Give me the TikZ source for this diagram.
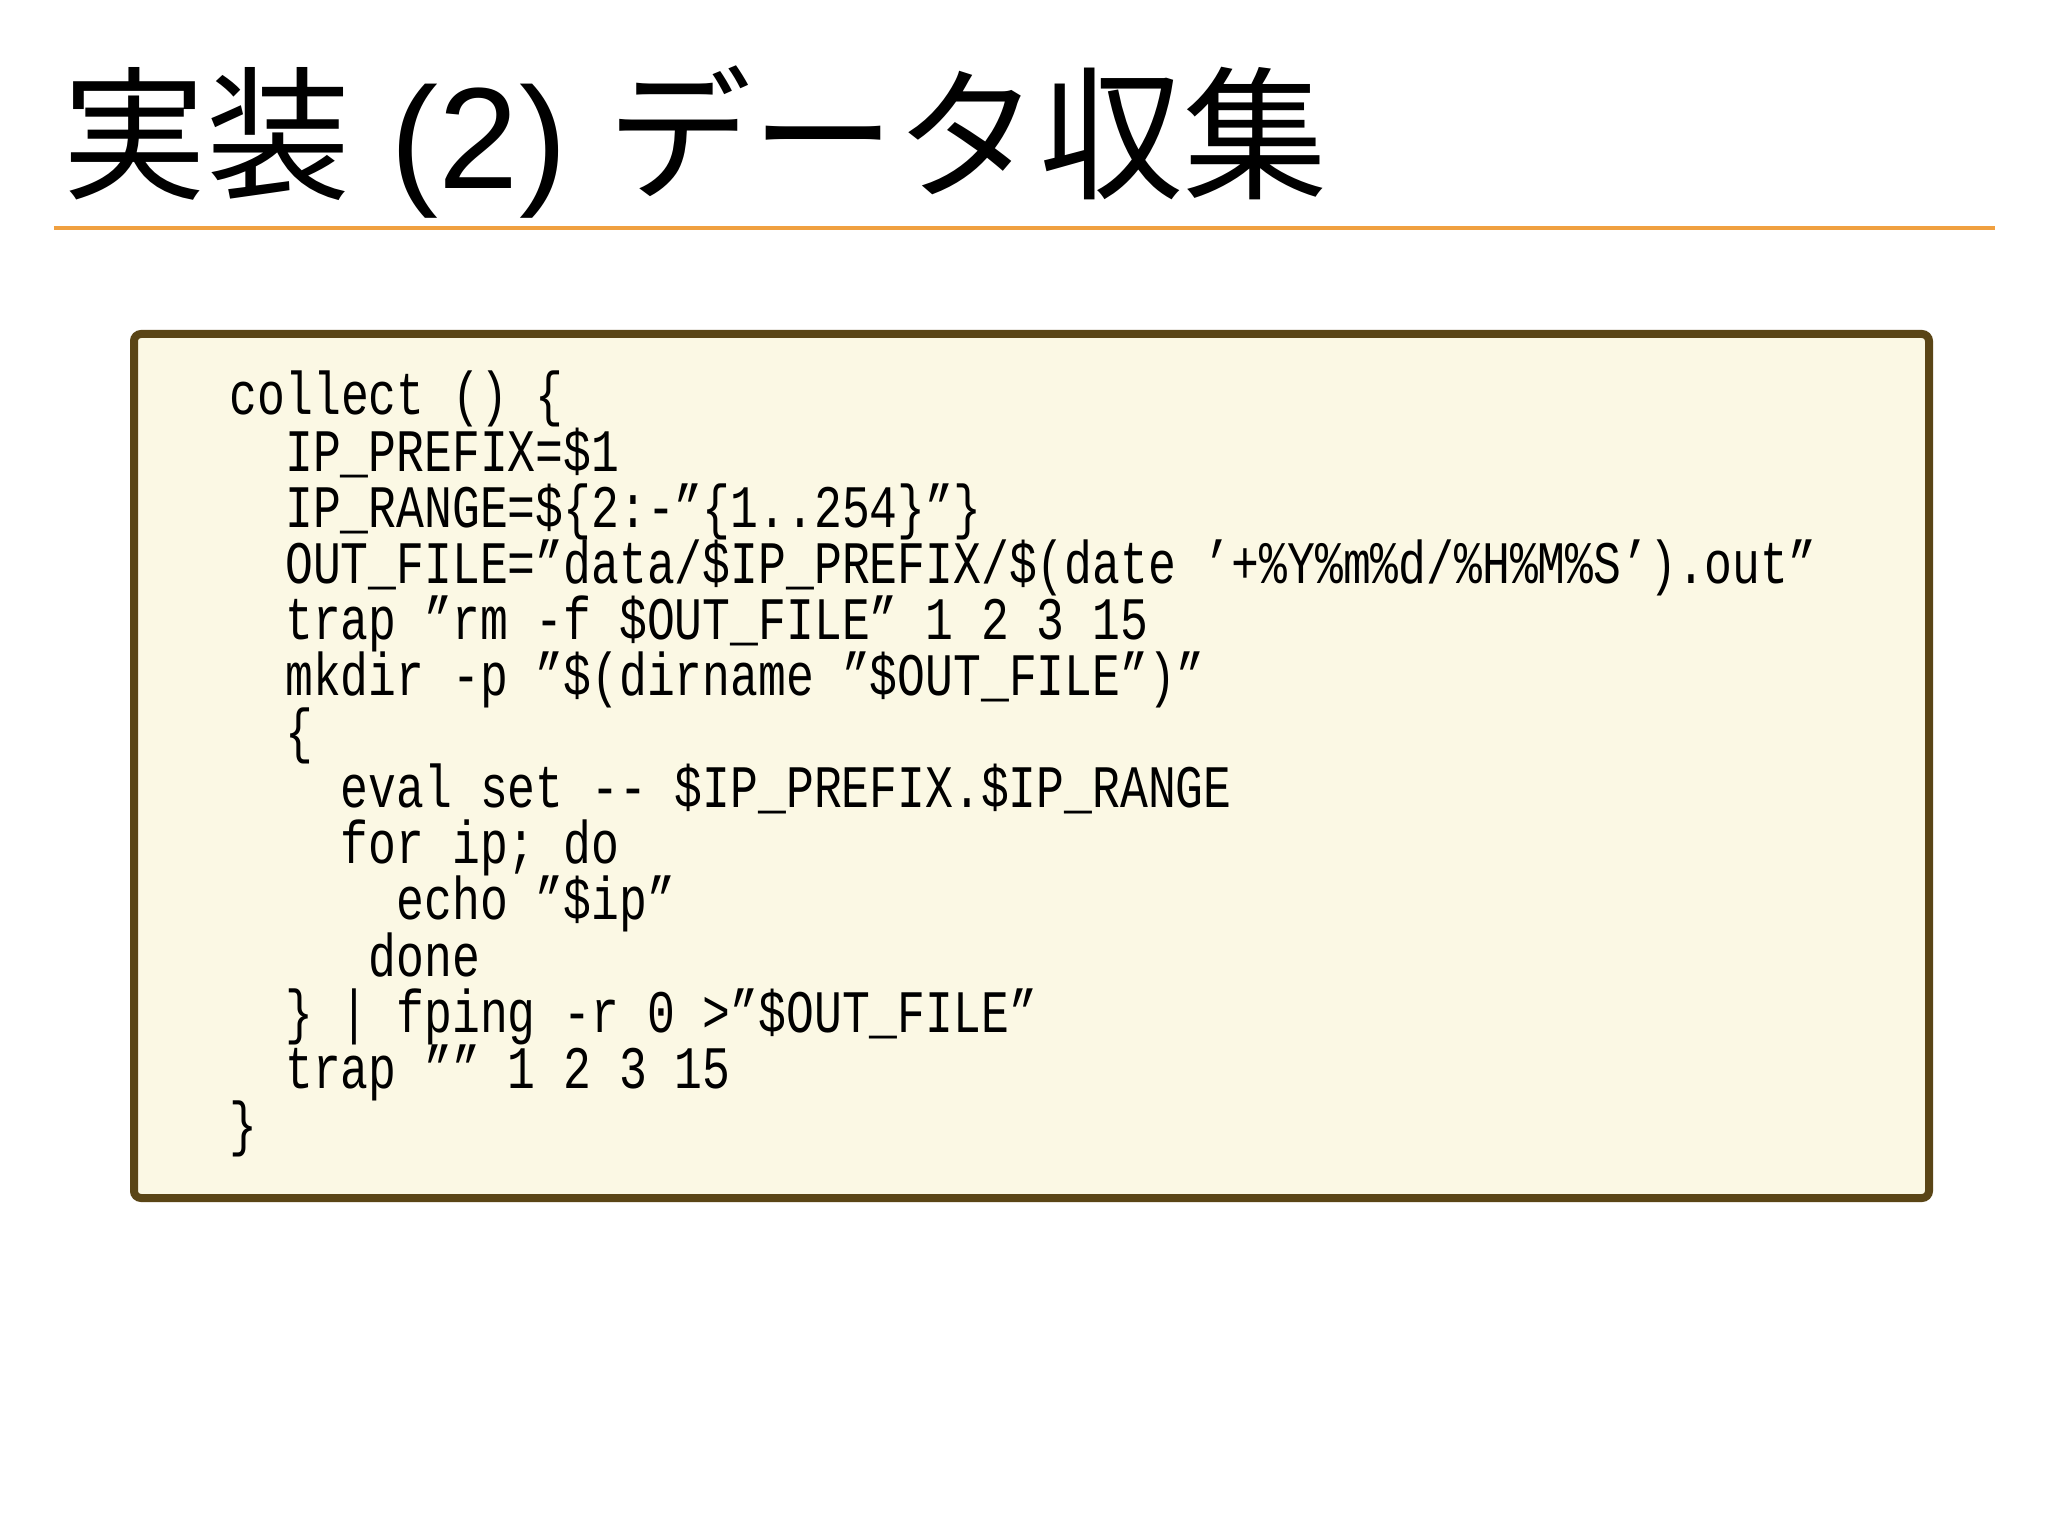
\documentclass[tikz,border=0pt]{standalone}
\usepackage{fontspec}
\setmainfont{Noto Sans CJK JP}
\newfontfamily\codefont{Liberation Mono}
\newfontfamily\latinfont{Liberation Sans}
\definecolor{boxfill}{HTML}{FBF8E4}
\definecolor{boxline}{HTML}{5A4516}
\definecolor{rule}{HTML}{F0A040}
\tikzset{codeline/.style={anchor=base west,inner sep=0pt,font=\codefont\fontsize{13.2pt}{16pt}\selectfont}}
\newcommand{\cl}[1]{\scalebox{1}[1.3]{#1}}
\begin{document}
\begin{tikzpicture}[x=1cm,y=-1cm]
\useasboundingbox (0,0) rectangle (20.48,15.36);
\fill[white] (0,0) rectangle (20.48,15.36);
\node[anchor=base west,inner sep=0pt,font=\fontsize{41pt}{48pt}\selectfont] (title) at (0.62,1.89) {実装{\latinfont\ (2) }データ収集};
\draw[rule,line width=0.04cm] (0.54,2.28) coordinate (r1) -- (19.95,2.28) coordinate (r2);
\node[draw=boxline,fill=boxfill,line width=0.08cm,rounded corners=2pt,minimum width=17.95cm,minimum height=8.64cm,anchor=north west,inner sep=0pt] (box) at (1.30,3.30) {};
\def\lx{2.29}\def\cw{0.278}\def\ly{4.15}\def\ld{0.561}
\node[codeline] (l0) at (\lx,\ly+0*\ld) {\cl{collect () \{}};
\node[codeline] (l1) at (\lx+2*\cw,\ly+1*\ld) {\cl{IP\_PREFIX=\$1}};
\node[codeline] (l2) at (\lx+2*\cw,\ly+2*\ld) {\cl{IP\_RANGE=\$\{2:-”\{1..254\}”\}}};
\node[codeline] (l3) at (\lx+2*\cw,\ly+3*\ld) {\cl{OUT\_FILE=”data/\$IP\_PREFIX/\$(date ’+\%Y\%m\%d/\%H\%M\%S’).out”}};
\node[codeline] (l4) at (\lx+2*\cw,\ly+4*\ld) {\cl{trap ”rm -f \$OUT\_FILE” 1 2 3 15}};
\node[codeline] (l5) at (\lx+2*\cw,\ly+5*\ld) {\cl{mkdir -p ”\$(dirname ”\$OUT\_FILE”)”}};
\node[codeline] (l6) at (\lx+2*\cw,\ly+6*\ld) {\cl{\{}};
\node[codeline] (l7) at (\lx+4*\cw,\ly+7*\ld) {\cl{eval set -- \$IP\_PREFIX.\$IP\_RANGE}};
\node[codeline] (l8) at (\lx+4*\cw,\ly+8*\ld) {\cl{for ip; do}};
\node[codeline] (l9) at (\lx+6*\cw,\ly+9*\ld) {\cl{echo ”\$ip”}};
\node[codeline] (l10) at (\lx+5*\cw,\ly+10*\ld) {\cl{done}};
\node[codeline] (l11) at (\lx+2*\cw,\ly+11*\ld) {\cl{\} | fping -r 0 >”\$OUT\_FILE”}};
\node[codeline] (l12) at (\lx+2*\cw,\ly+12*\ld) {\cl{trap ”” 1 2 3 15}};
\node[codeline] (l13) at (\lx,\ly+13*\ld) {\cl{\}}};
\end{tikzpicture}
\end{document}
